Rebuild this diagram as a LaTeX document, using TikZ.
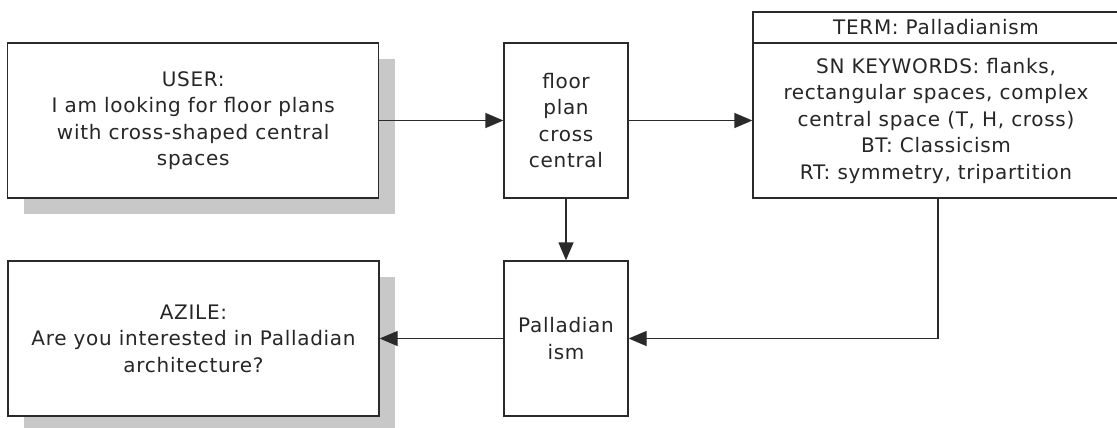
\documentclass[tikz,border=0pt]{standalone}
\usepackage{fontspec}
\setmainfont{DejaVu Sans}[LetterSpace=3.5]
\usetikzlibrary{arrows.meta}
\definecolor{linec}{HTML}{2A2A2A}
\definecolor{shadowc}{HTML}{C8C8C8}
\definecolor{textc}{HTML}{262626}
\begin{document}
\begin{tikzpicture}[x=1pt,y=-1pt,
  box/.style={draw=linec,line width=1.3pt,fill=white,rectangle,inner sep=0pt,
    minimum height=155pt,align=center,text=textc,
    font=\fontsize{20pt}{26.5pt}\selectfont},
  widebox/.style={box,minimum width=371pt},
  narrowbox/.style={box,minimum width=124pt},
  termhead/.style={box,minimum width=366pt,minimum height=31pt},
  termbody/.style={box,minimum width=366pt},
  shadowbox/.style={fill=shadowc,draw=none},
  conn/.style={draw=linec,line width=1.3pt,-{Triangle[length=18pt,width=15pt]}},
  plain/.style={draw=linec,line width=1.3pt}]
\useasboundingbox (0,0) rectangle (1117,428);
% shadows
\fill[shadowbox] (23.5,59) rectangle (394.5,214);
\fill[shadowbox] (24,277) rectangle (395,432);
% nodes
\node[widebox] (user) at (193.25,120.5) {USER:\\I am looking for floor plans\\with cross-shaped central\\spaces};
\node[narrowbox] (kw) at (566,120.5) {floor\\plan\\cross\\central};
\node[termbody] (tb) at (936,120.5) {SN KEYWORDS: flanks,\\rectangular spaces, complex\\central space (T, H, cross)\\BT: Classicism\\RT: symmetry, tripartition};
\node[termhead] (th) at (936,27.5) {TERM: Palladianism};
\node[widebox] (azile) at (193.5,338.5) {AZILE:\\Are you interested in Palladian\\architecture?};
\node[narrowbox] (pall) at (566,338.5) {Palladian\\ism};
\coordinate (turn) at (938,338.5);
% connectors
\draw[conn] (user.east) -- (kw.west);
\draw[conn] (kw.east) -- (tb.west);
\draw[conn] (kw.south) -- (pall.north);
\draw[conn] (tb.south -| turn) -- (turn) -- (pall.east);
\draw[conn] (pall.west) -- (azile.east);
\end{tikzpicture}
\end{document}
